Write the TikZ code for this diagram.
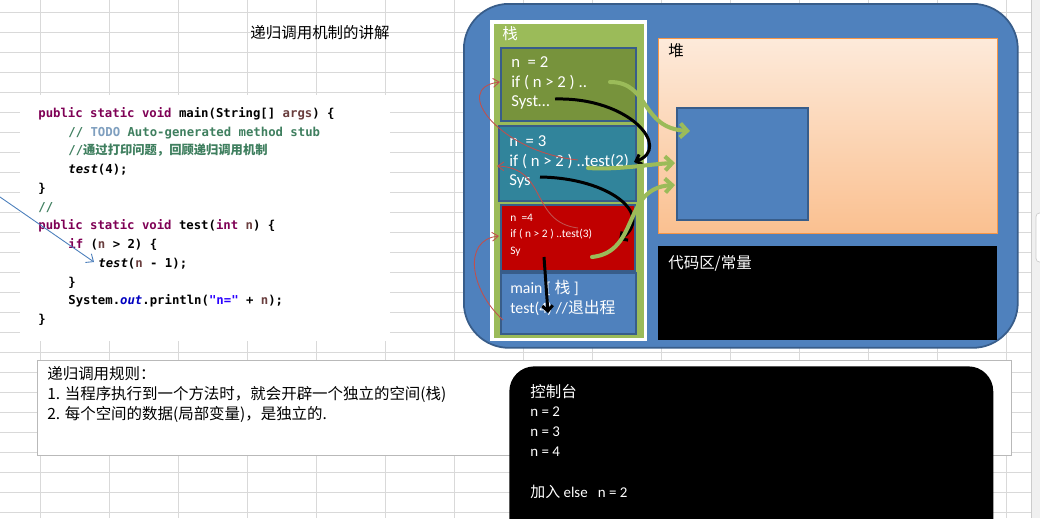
\documentclass[tikz,border=0pt]{standalone}
\usepackage{fontspec}
\setmainfont{Carlito}
\setmonofont{DejaVu Sans Mono}
\newfontfamily\cjk{Noto Sans CJK SC}
\usetikzlibrary{positioning,arrows.meta}

\definecolor{gridline}{HTML}{D9D9D9}
\definecolor{kwcol}{HTML}{7F0055}
\definecolor{cmtcol}{HTML}{3F7F5F}
\definecolor{todocol}{HTML}{7F9FBF}
\definecolor{strcol}{HTML}{2A00FF}
\definecolor{fldcol}{HTML}{0000C0}
\definecolor{varcol}{HTML}{6A3E3E}
\definecolor{memblue}{HTML}{4F81BD}
\definecolor{memedge}{HTML}{385D8A}
\definecolor{stackgreen}{HTML}{9BBB59}
\definecolor{frameolive}{HTML}{77933C}
\definecolor{frameteal}{HTML}{31849B}
\definecolor{framered}{HTML}{C00000}
\definecolor{callred}{HTML}{C0504D}
\definecolor{heaptop}{HTML}{FDEADA}
\definecolor{heapbottom}{HTML}{FAC090}
\definecolor{heapedge}{HTML}{F79646}
\definecolor{arrowblue}{HTML}{4A7EBB}

% java colouring
\newcommand{\kw}[1]{\textcolor{kwcol}{#1}}
\newcommand{\cmt}[1]{\textcolor{cmtcol}{#1}}
\newcommand{\jvar}[1]{\textcolor{varcol}{#1}}
\newcommand{\jstr}[1]{\textcolor{strcol}{#1}}
\newcommand{\jfld}[1]{\textcolor{fldcol}{\textit{#1}}}

\begin{document}
\begin{tikzpicture}[x=0.02cm, y=-0.02cm,
  code/.style={anchor=base west, inner sep=0pt, font=\ttfamily\bfseries\fontsize{7}{8}\selectfont},
  cjktext/.style={inner sep=0pt, font=\cjk\fontsize{8.8}{10}\selectfont},
  box/.style={anchor=north west, inner sep=0pt},
  stackframe/.style={box, draw=memedge, line width=1.2pt},
  ftext/.style={anchor=base west, inner sep=0pt, text=white, font=\fontsize{9.5}{11}\selectfont},
  context/.style={inner sep=0pt, text=white, font=\fontsize{8.5}{10}\selectfont},
  garrow/.style={draw=stackgreen, line width=2.3pt, line cap=round, -{Straight Barb[length=4pt,width=8pt]}},
  barrow/.style={draw=black, line width=1.7pt, -{Straight Barb[length=3pt,width=6pt]}},
  rarrow/.style={draw=callred, line width=0.5pt, -{Straight Barb[length=3.5pt,width=5pt]}}]

  \clip (0,0) rectangle (1040,518);

  % sheet grid
  \foreach \gx in {40,109,...,1006}
    \draw[gridline, line width=0.5pt] (\gx,0) -- (\gx,518);
  \foreach \gy in {12,32,...,512}
    \draw[gridline, line width=0.5pt] (0,\gy) -- (1031,\gy);
  \fill[gray!12] (1031,0) rectangle (1040,518);
  \draw[gray!40] (1031,0) -- (1031,518);
  \draw[gray!40, fill=white, rounded corners=2pt] (1036,213) rectangle (1044,262);

  \node[cjktext, anchor=base] (title) at (320,38) {递归调用机制的讲解};

  % java code
  \fill[white] (20,95) rectangle (390,341);
  \node[code] (c1) at (38,117) {\kw{public static void} main(String[] \jvar{args}) \{};
  \node[code] (c2) at (68,136) {\cmt{// }\textcolor{todocol}{TODO}\ \cmt{Auto-generated method stub}};
  \node[code] (c3) at (68,154) {\cmt{//{\cjk 通过打印问题，回顾递归调用机制}}};
  \node[code] (c4) at (68,173) {\textit{test}(4);};
  \node[code] (c5) at (38,192) {\}};
  \node[code] (c6) at (38,211) {\cmt{//}};
  \node[code] (c7) at (38,229) {\kw{public static void} test(\kw{int} \jvar{n}) \{};
  \node[code] (c8) at (68,248) {\kw{if} (\jvar{n} > 2) \{};
  \node[code] (c9) at (98,267) {\textit{test}(\jvar{n} - 1);};
  \node[code] (c10) at (68,286) {\}};
  \node[code] (c11) at (68,304) {System.\jfld{out}.println(\jstr{"n="} + \jvar{n});};
  \node[code] (c12) at (38,323) {\}};

  \coordinate (bluefrom) at (0,197);
  \coordinate (bluetip) at (94,262);
  \draw[arrowblue, line width=0.5pt, -{Straight Barb[length=3.5pt,width=6pt]}] (bluefrom) -- (bluetip);

  % rules
  \node[box, draw=gray!55, fill=white, minimum width=19.48cm, minimum height=1.9cm] (rules) at (37,360) {};
  \node[cjktext, anchor=base west] (r1) at (47,379) {递归调用规则：};
  \node[cjktext, below=0.4cm of r1.base west, anchor=base west] (r2) {1. 当程序执行到一个方法时，就会开辟一个独立的空间(栈)};
  \node[cjktext, below=0.4cm of r2.base west, anchor=base west] (r3) {2. 每个空间的数据(局部变量)，是独立的.};

  % console
  \node[box, fill=black, rounded corners=0.5cm, minimum width=9.68cm, minimum height=3.9cm] (console) at (509,366) {};
  \node[cjktext, anchor=base west, text=white] (k0) at (530,397) {控制台};
  \node[context, below=0.39cm of k0.base west, anchor=base west] (k1) {n = 2};
  \node[context, below=0.4cm of k1.base west, anchor=base west] (k2) {n = 3};
  \node[context, below=0.4cm of k2.base west, anchor=base west] (k3) {n = 4};
  \node[context, below=0.82cm of k3.base west, anchor=base west] (k4) {{\cjk 加入} else\ \ \ n = 2};

  % memory
  \node[box, fill=memblue, draw=memedge, line width=1pt, rounded corners=0.9cm,
        minimum width=11.08cm, minimum height=6.88cm] (mem) at (463,3) {};
  \node[box, fill=stackgreen, draw=white, line width=2pt,
        minimum width=3.08cm, minimum height=6.36cm] (stack) at (490,20) {};
  \node[cjktext, anchor=base west, text=white] (stacklbl) at (502,39) {栈};

  \node[stackframe, fill=frameolive, minimum width=2.7cm, minimum height=1.46cm] (f2) at (500,47) {};
  \node[stackframe, fill=frameteal, minimum width=2.74cm, minimum height=1.5cm] (f3) at (498,125) {};
  \node[stackframe, fill=framered, minimum width=2.68cm, minimum height=1.32cm] (f4) at (500,204) {};
  \node[stackframe, fill=memblue, minimum width=2.7cm, minimum height=1.22cm] (fm) at (500,272) {};

  \node[ftext] (f2a) at (511,67) {n\ \ = 2};
  \node[ftext, below=0.4cm of f2a.base west, anchor=base west] (f2b) {if ( n > 2 ) ..};
  \node[ftext, below=0.4cm of f2b.base west, anchor=base west] (f2c) {Syst…};

  \node[ftext] (f3a) at (509,146) {n\ \ = 3};
  \node[ftext, below=0.4cm of f3a.base west, anchor=base west] (f3b) {if ( n > 2 ) ..test(2)};
  \node[ftext, below=0.4cm of f3b.base west, anchor=base west] (f3c) {Sys};

  \node[ftext, font=\fontsize{6.5}{8}\selectfont] (f4a) at (510,221) {n\ \ =4};
  \node[ftext, font=\fontsize{6.5}{8}\selectfont, below=0.33cm of f4a.base west, anchor=base west] (f4b) {if ( n > 2 ) ..test(3)};
  \node[ftext, font=\fontsize{6.5}{8}\selectfont, below=0.33cm of f4b.base west, anchor=base west] (f4c) {Sy};

  \node[ftext, font=\fontsize{9}{11}\selectfont] (fma) at (510,293) {main [ {\cjk 栈} ]};
  \node[ftext, font=\fontsize{9}{11}\selectfont, below=0.4cm of fma.base west, anchor=base west] (fmb) {test(4) //{\cjk 退出程}};

  \node[box, top color=heaptop, bottom color=heapbottom, draw=heapedge, line width=0.8pt,
        minimum width=6.78cm, minimum height=3.9cm] (heap) at (658,38) {};
  \node[cjktext, anchor=base west] (heaplbl) at (668,56) {堆};
  \node[box, fill=memblue, draw=memedge, line width=1.2pt,
        minimum width=2.62cm, minimum height=2.24cm] (obj) at (676,107) {};

  \node[box, fill=black, minimum width=6.78cm, minimum height=1.88cm] (codearea) at (658,246) {};
  \node[cjktext, anchor=base west, text=white] (codelbl) at (668,268) {代码区/常量};

  % returns
  \coordinate (bs1) at (555,99);  \coordinate (be1) at (634,162);
  \coordinate (bs2) at (540,177); \coordinate (be2) at (619,240);
  \coordinate (bs3) at (544,257); \coordinate (be3) at (548,313);
  \draw[barrow] (bs1) .. controls (630,97) and (672,148) .. (be1);
  \draw[barrow] (bs2) .. controls (610,178) and (655,215) .. (be2);
  \draw[barrow] (bs3) -- (be3);

  % refs into heap
  \coordinate (gs1) at (610,82);  \coordinate (ge1) at (690,131);
  \coordinate (gs2) at (588,168); \coordinate (ge2) at (675,163);
  \coordinate (gs3) at (592,257); \coordinate (ge3) at (675,185);
  \draw[garrow] (gs1) .. controls (650,82) and (640,128) .. (ge1);
  \draw[garrow] (gs2) .. controls (620,170) and (650,164) .. (ge2);
  \draw[garrow] (gs3) .. controls (640,252) and (622,188) .. (ge3);

  % calls
  \coordinate (rs1) at (503,320); \coordinate (re1) at (499,236);
  \coordinate (rs2) at (578,228); \coordinate (re2) at (497,166);
  \coordinate (rs3) at (578,160); \coordinate (re3) at (500,82);
  \draw[rarrow] (rs1) .. controls (470,290) and (462,240) .. (re1);
  \draw[rarrow] (rs2) .. controls (530,222) and (548,168) .. (re2);
  \draw[rarrow] (rs3) .. controls (500,152) and (450,88) .. (re3);
\end{tikzpicture}
\end{document}
